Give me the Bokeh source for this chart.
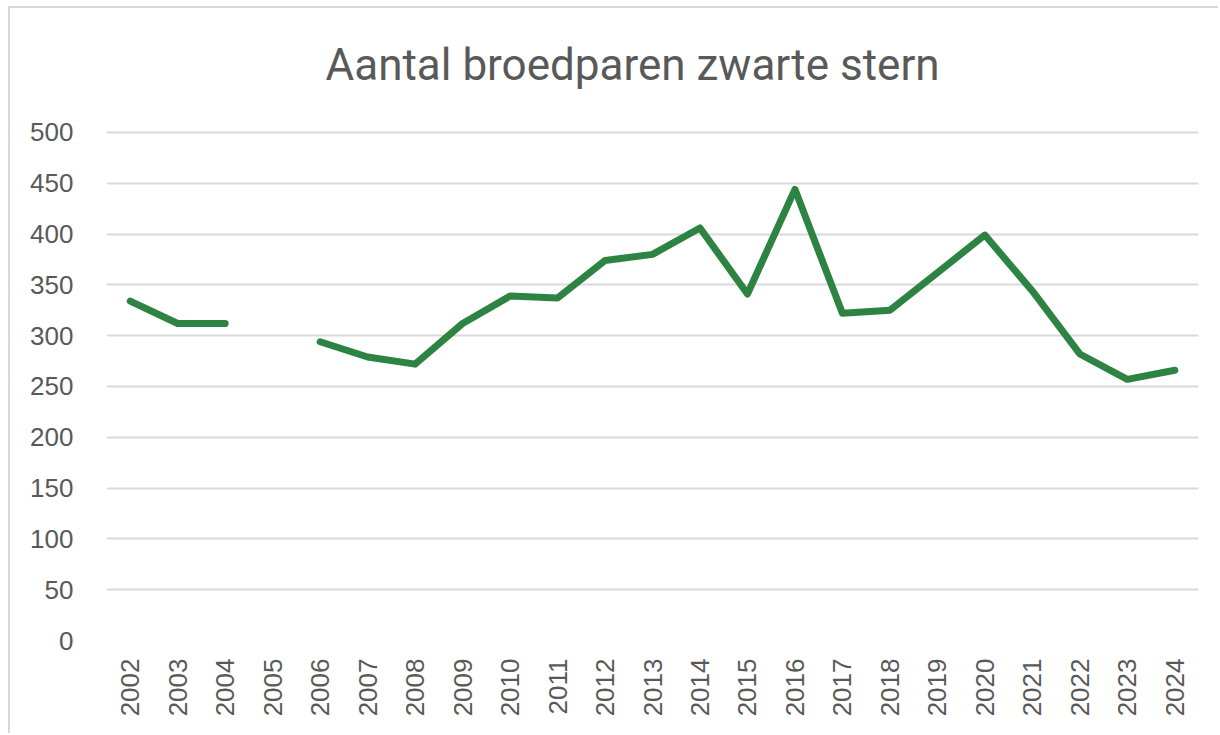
import math
from bokeh.plotting import figure
from bokeh.models import FixedTicker, Label
from bokeh.embed import file_html
from bokeh.resources import INLINE

years = [str(y) for y in range(2002, 2025)]
pairs = [334, 312, 312, float("nan"), 294, 279, 272, 312, 339, 337, 374, 380,
         406, 341, 444, 322, 325, 362, 399, 344, 282, 257, 266]
y_ticks = [0, 50, 100, 150, 200, 250, 300, 350, 400, 450, 500]
title_text = "Aantal broedparen zwarte stern"

# frame spans full height above the axis; only 0..500 are ticked / gridded
p = figure(x_range=years, y_range=(0, 622), width=1210, height=727,
           output_backend="svg", toolbar_location=None,
           min_border_left=96, min_border_right=22, min_border_top=0,
           min_border_bottom=95)
p.styles = {"margin-top": "6px", "margin-left": "8px",
            "border-top": "2px solid #d9d9d9", "border-left": "2px solid #d9d9d9"}

title = Label(x=11.08, y=566, x_units="data", y_units="data", text=title_text,
              text_font="Roboto", text_font_size="44px", text_color="#595959",
              text_align="center", text_baseline="alphabetic")
p.add_layout(title)

p.line(x=years, y=pairs, line_color="#2D8442", line_width=7,
       line_join="round", line_cap="round")

p.outline_line_color = None
p.xgrid.grid_line_color = None
p.ygrid.grid_line_color = "#d9d9d9"
p.ygrid.grid_line_width = 2

p.yaxis.ticker = FixedTicker(ticks=y_ticks)
for ax in (p.xaxis, p.yaxis):
    ax.axis_line_color = None
    ax.major_tick_line_color = None
    ax.minor_tick_line_color = None
    ax.major_tick_out = 0
    ax.major_tick_in = 0
    ax.major_label_text_font = "Liberation Sans"
    ax.major_label_text_font_size = "26px"
    ax.major_label_text_color = "#595959"
p.yaxis.major_label_standoff = 33
p.xaxis.major_label_standoff = 18
p.xaxis.major_label_orientation = math.pi / 2

open("out.html", "w").write(file_html(p, INLINE))
